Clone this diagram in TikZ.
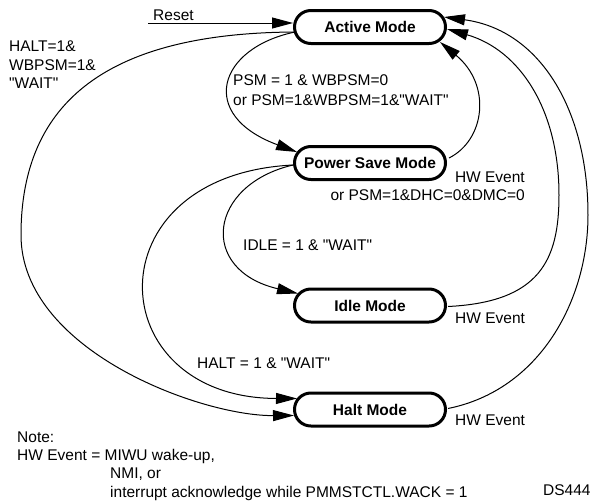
\documentclass[tikz,border=0pt]{standalone}
\usepackage{fontspec}
\setmainfont{Liberation Sans}[Ligatures=TeXOff]
\usetikzlibrary{arrows.meta,positioning}

\begin{document}
\begin{tikzpicture}[
  x=1pt, y=-1pt,
  every node/.style={font=\fontsize{15.5}{18.5}\selectfont,inner sep=0pt},
  mode/.style={draw,line width=3pt,rounded corners=16.4pt,minimum width=151pt,minimum height=33pt,font=\fontsize{15.5}{18.5}\selectfont\bfseries},
  trans/.style={-{Triangle[length=21pt,width=11pt]},line width=1pt},
  lbl/.style={anchor=base west}
]
  \useasboundingbox (0,0) rectangle (590,501);
  % the four modes
  \node[mode] (active) at (370,27) {Active Mode};
  \node[mode,below=100pt of active] (psave) {Power Save Mode};
  \node[mode,below=106.5pt of psave] (idle) {Idle Mode};
  \node[mode,below=68pt of idle] (halt) {Halt Mode};
  \coordinate (rst) at (148,23);
  % transitions
  \draw[trans] (rst)--([yshift=4pt]active.west);
  \draw[trans] ([shift={(-75,5)}]active.center) .. controls (110,33) and (21,100) .. (21,235)
    .. controls (21,350) and (200,416) .. ([shift={(-76,6)}]halt.center);
  \draw[trans] ([shift={(-75,5)}]active.center) .. controls (218,48) and (197,115) .. ([shift={(-73,-11)}]psave.center);
  \draw[trans] ([shift={(79,-5)}]psave.center) .. controls (485,140) and (492,85) .. ([shift={(70,15)}]active.center);
  \draw[trans] ([shift={(-77,2)}]psave.center) .. controls (208,185) and (198,270) .. ([shift={(-72,-12)}]idle.center);
  \draw[trans] ([shift={(-77,2)}]psave.center) .. controls (90,175) and (100,398) .. ([shift={(-73,-11)}]halt.center);
  \draw[trans] ([shift={(78,1)}]idle.center) .. controls (540,302) and (559,260) .. (559,195)
    .. controls (559,110) and (520,50) .. ([shift={(77,2)}]active.center);
  \draw[trans] ([shift={(78,-1)}]halt.center) .. controls (540,390) and (588,300) .. (588,215)
    .. controls (588,110) and (540,30) .. ([shift={(74,-10)}]active.center);
  % labels
  \node[lbl] (rstlbl) at (153,20) {Reset};
  \node[anchor=north west,align=left] (haltwb) at (9,41) {HALT=1\&\\WBPSM=1\&\\"WAIT"};
  \node[anchor=north west,align=left,font=\fontsize{15.5}{20}\selectfont] (psmlbl) at (233,74.5) {PSM = 1 \& WBPSM=0\\or PSM=1\&WBPSM=1\&"WAIT"};
  \node[anchor=north east,align=right] (hwpsave) at (525,171.5) {HW Event\\or PSM=1\&DHC=0\&DMC=0};
  \node[lbl] (idlelbl) at (243,250.5) {IDLE = 1 \& "WAIT"};
  \node[lbl] (haltlbl) at (197,368.5) {HALT = 1 \& "WAIT"};
  \node[lbl] (hwidle) at (455,323.5) {HW Event};
  \node[lbl] (hwhalt) at (455,425.5) {HW Event};
  \node[anchor=north west,align=left,font=\fontsize{15.5}{18.3}\selectfont] (note) at (17,431.5)
    {Note:\\HW Event = MIWU wake-up,\\\hspace*{93pt}NMI, or\\\hspace*{93pt}interrupt acknowledge while PMMSTCTL.WACK = 1};
  \node[lbl] (ds) at (543,495.5) {DS444};
\end{tikzpicture}
\end{document}
